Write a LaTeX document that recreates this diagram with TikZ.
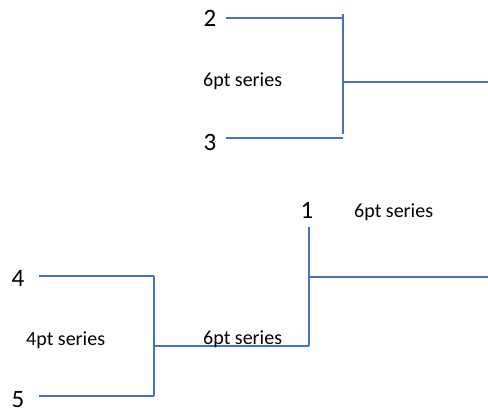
\documentclass[tikz,border=0pt]{standalone}
\usepackage{fontspec}
\setmainfont{Carlito}
\usetikzlibrary{positioning}
\definecolor{linkblue}{RGB}{68,114,196}

\begin{document}
\begin{tikzpicture}[x=1pt,y=-1pt]
        \tikzstyle{every node}+=[inner sep=0pt]
        \tikzstyle{seed}=[font=\fontsize{25}{25}\selectfont, outer xsep=10pt]
        \tikzstyle{note}=[font=\fontsize{20}{20}\selectfont, anchor=base west]
        \tikzstyle{link}=[linkblue, line width=1.4pt]
        \useasboundingbox (0,0) rectangle (488,414);
        % seeds
        \node [seed] (s2) at (210,18) {2};
        \node [seed] (s3) at (210,142) {3};
        \node [seed] (s1) at (307,210) {1};
        \node [seed] (s4) at (18,278) {4};
        \node [seed] (s5) at (18,400) {5};
        % joints
        \coordinate (j2) at (343,18);
        \coordinate (j3) at (343,138);
        \coordinate (t23) at (343,14);
        \coordinate (b23) at (343,134);
        \coordinate (m23) at (343,82);
        \coordinate (w23) at (488,82);
        \coordinate (j4) at (154,276);
        \coordinate (j5) at (154,396);
        \coordinate (m45) at (154,346);
        \coordinate (j1) at (309,346);
        \coordinate (t1) at (309,227);
        \coordinate (m1) at (309,277);
        \coordinate (w1) at (488,277);
        % top bracket
        \draw [link] (s2.east) -- (j2);
        \draw [link] (s3.east |- j3) -- (j3);
        \draw [link] (t23) -- (b23);
        \draw [link] (m23) -- (w23);
        \node [note] (n23) at (203,87) {6pt series};
        % bottom bracket
        \draw [link] ([xshift=5pt]s4.east |- j4) -- (j4);
        \draw [link] ([xshift=5pt]s5.east |- j5) -- (j5);
        \draw [link] (j4) -- (j5);
        \draw [link] (m45) -- (j1);
        \draw [link] (t1) -- (j1);
        \draw [link] (m1) -- (w1);
        \node [note] (n45) at (26,346) {4pt series};
        \node [note] (n451) at (203,345) {6pt series};
        \node [note] (n1) at (354,218) {6pt series};
\end{tikzpicture}
\end{document}
